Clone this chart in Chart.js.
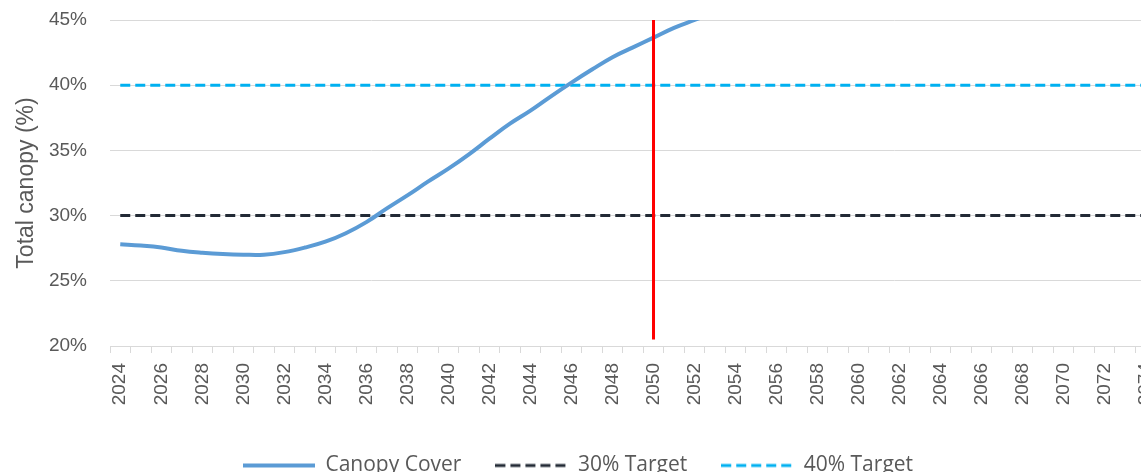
<!DOCTYPE html>
<html>
<head>
<meta charset="utf-8">
<script src="https://cdn.jsdelivr.net/npm/chart.js@4"></script>
<style>
  html, body { margin: 0; padding: 0; background: #fff; overflow: hidden; }
  #wrap { width: 1141px; height: 472px; overflow: hidden; }
</style>
</head>
<body>
<div id="wrap">
  <canvas id="canopyChart" width="1156" height="486"></canvas>
</div>
<script>
// canopy.js

const years = [
    '2024', '2025', '2026', '2027', '2028', '2029', '2030', '2031', '2032', '2033',
    '2034', '2035', '2036', '2037', '2038', '2039', '2040', '2041', '2042', '2043',
    '2044', '2045', '2046', '2047', '2048', '2049', '2050', '2051', '2052', '2053',
    '2054', '2055', '2056', '2057', '2058', '2059', '2060', '2061', '2062', '2063',
    '2064', '2065', '2066', '2067', '2068', '2069', '2070', '2071', '2072', '2073',
    '2074'
];

// % canopy (leaves the top of the plot after ~2052)
const canopyCover = [
    27.8, 27.7, 27.55, 27.3, 27.15, 27.05, 27.0, 27.0, 27.2, 27.55,
    28.0, 28.65, 29.5, 30.55, 31.55, 32.6, 33.6, 34.7, 35.9, 37.05,
    38.05, 39.15, 40.2, 41.2, 42.15, 42.9, 43.65, 44.4, 45.0, 45.6,
    46.2
];

const target30 = 30;
const target40 = 40;
const markerYear = '2050';
const yTicks = [20, 25, 30, 35, 40, 45];

const grey = '#595959';
const gridGrey = '#d9d9d9';

document.addEventListener('DOMContentLoaded', function() {
    renderCanopyChart();
});

// small dashed/solid line images for the legend samples
function legendSample(color, width, dash) {
    const c = document.createElement('canvas');
    c.width = 72;
    c.height = 6;
    const g = c.getContext('2d');
    g.strokeStyle = color;
    g.lineWidth = width;
    g.setLineDash(dash);
    g.beginPath();
    g.moveTo(0, 3);
    g.lineTo(72, 3);
    g.stroke();
    return c;
}

function renderCanopyChart() {
    const ctx = document.getElementById('canopyChart').getContext('2d');
    const first = years[0];
    const last = years[years.length - 1];

    new Chart(ctx, {
        type: 'line',
        data: {
            labels: years,
            datasets: [
                {
                    label: 'Canopy Cover',
                    data: canopyCover,
                    borderColor: '#5b9bd5',
                    backgroundColor: '#5b9bd5',
                    borderWidth: 4,
                    pointRadius: 0,
                    tension: 0.4,
                    pointStyle: legendSample('#5b9bd5', 4, []),
                    order: 1
                },
                {
                    label: '30% Target',
                    data: [{ x: first, y: target30 }, { x: last, y: target30 }],
                    borderColor: '#222a35',
                    backgroundColor: '#222a35',
                    borderWidth: 3,
                    borderDash: [10, 5],
                    pointRadius: 0,
                    pointStyle: legendSample('#222a35', 3, [10, 5]),
                    order: 2
                },
                {
                    label: '40% Target',
                    data: [{ x: first, y: target40 }, { x: last, y: target40 }],
                    borderColor: '#00b0f0',
                    backgroundColor: '#00b0f0',
                    borderWidth: 3,
                    borderDash: [10, 5],
                    pointRadius: 0,
                    pointStyle: legendSample('#00b0f0', 3, [10, 5]),
                    order: 3
                },
                {
                    label: '2050',
                    data: [{ x: markerYear, y: 20.5 }, { x: markerYear, y: 45 }],
                    borderColor: '#ff0000',
                    borderWidth: 3,
                    pointRadius: 0,
                    order: 0
                }
            ]
        },
        options: {
            responsive: false,
            animation: false,
            devicePixelRatio: 1,
            layout: {
                padding: { top: 20, left: 0, right: 0, bottom: 0 }
            },
            scales: {
                x: {
                    offset: true,
                    grid: {
                        offset: true,
                        drawOnChartArea: false,
                        drawTicks: true,
                        tickLength: 7,
                        color: gridGrey
                    },
                    border: { display: true, color: gridGrey, width: 1 },
                    ticks: {
                        autoSkip: false,
                        minRotation: 90,
                        maxRotation: 90,
                        padding: 10,
                        color: grey,
                        font: { family: 'Liberation Sans', size: 19 },
                        callback: (v, i) => (i % 2 === 0 ? years[i] : '')
                    },
                    afterFit: s => {
                        s.height = 75;
                        s.paddingLeft = 0;
                        s.paddingRight = 0;
                    }
                },
                y: {
                    min: 20,
                    max: 45,
                    afterBuildTicks: s => { s.ticks = yTicks.map(v => ({ value: v })); },
                    grid: { color: gridGrey, drawTicks: false },
                    border: { display: false },
                    ticks: {
                        padding: 23,
                        color: grey,
                        font: { family: 'Liberation Sans', size: 19 },
                        callback: v => v + '%'
                    },
                    title: {
                        display: true,
                        text: 'Total canopy (%)',
                        color: grey,
                        font: { family: 'Liberation Sans', size: 23 },
                        padding: { top: 13, bottom: 0 }
                    },
                    afterFit: s => {
                        s.width = 110;
                        s.paddingTop = 0;
                        s.paddingBottom = 0;
                    }
                }
            },
            plugins: {
                legend: {
                    position: 'bottom',
                    labels: {
                        usePointStyle: true,
                        pointStyleWidth: 72,
                        padding: 34,
                        color: grey,
                        font: { family: 'Open Sans', size: 21 },
                        filter: item => item.text !== '2050'
                    }
                },
                tooltip: { enabled: false }
            }
        }
    });
}
</script>
</body>
</html>
